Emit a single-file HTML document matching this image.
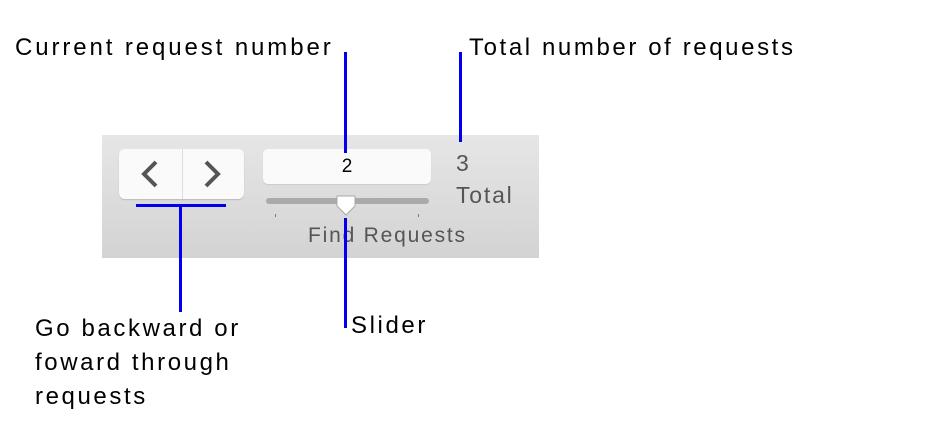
<!DOCTYPE html>
<html><head><style>
body{margin:0;width:927px;height:446px;background:#fff;position:relative;overflow:hidden;font-family:"Liberation Sans",sans-serif}
.t{position:absolute;font-size:24px;letter-spacing:2.9px;color:#000;white-space:nowrap;line-height:34px}
.b{position:absolute;background:#0000ee}
</style></head><body>
<div style="position:absolute;left:102px;top:135px;width:437px;height:123px;background:linear-gradient(#e6e6e6,#d3d3d3)"></div>
<div style="position:absolute;left:119px;top:149px;width:125px;height:50px;background:#fafafa;border-radius:6px;box-shadow:0 1px 1px #bbb"></div>
<div style="position:absolute;left:182px;top:149px;width:1px;height:50px;background:#ddd"></div>
<svg style="position:absolute;left:119px;top:149px" width="125" height="50"><polyline points="37,13 25,25 37,37" fill="none" stroke="#555" stroke-width="4"/><polyline points="87,13 99,25 87,37" fill="none" stroke="#555" stroke-width="4"/></svg>
<div style="position:absolute;left:263px;top:149px;width:168px;height:35px;background:#fafafa;border-radius:5px;box-shadow:0 1px 1px #ccc;text-align:center;font-size:19px;line-height:35px">2</div>
<div style="position:absolute;left:266px;top:198px;width:163px;height:6px;background:#aaa;border-radius:3px"></div>
<div style="position:absolute;left:275px;top:214px;width:1px;height:3px;background:#777"></div>
<div style="position:absolute;left:418px;top:214px;width:1px;height:3px;background:#777"></div>
<svg style="position:absolute;left:334px;top:194px" width="24" height="24"><path d="M3,2 H21 V12 L12,21 L3,12 Z" fill="#fff" stroke="#aaa" stroke-width="1"/></svg>
<div class="t" style="left:308px;top:219px;font-size:21px;letter-spacing:1.8px;color:#555">Find Requests</div>
<div class="t" style="left:456px;top:146px;font-size:23px;color:#555">3</div>
<div class="t" style="left:456px;top:178px;font-size:23px;letter-spacing:1.8px;color:#555">Total</div>
<div class="b" style="left:344px;top:52px;width:3px;height:101px"></div>
<div class="b" style="left:459px;top:52px;width:3px;height:90px"></div>
<div class="b" style="left:136px;top:204px;width:90px;height:3px"></div>
<div class="b" style="left:179px;top:205px;width:3px;height:107px"></div>
<div class="b" style="left:344px;top:218px;width:3px;height:110px"></div>
<div class="t" style="left:15px;top:31px">Current request number</div>
<div class="t" style="left:469px;top:31px;letter-spacing:2.6px">Total number of requests</div>
<div class="t" style="left:351px;top:309px;letter-spacing:2.6px">Slider</div>
<div class="t" style="left:35px;top:312px;letter-spacing:2.6px">Go backward or<br>foward through<br>requests</div>
</body></html>
